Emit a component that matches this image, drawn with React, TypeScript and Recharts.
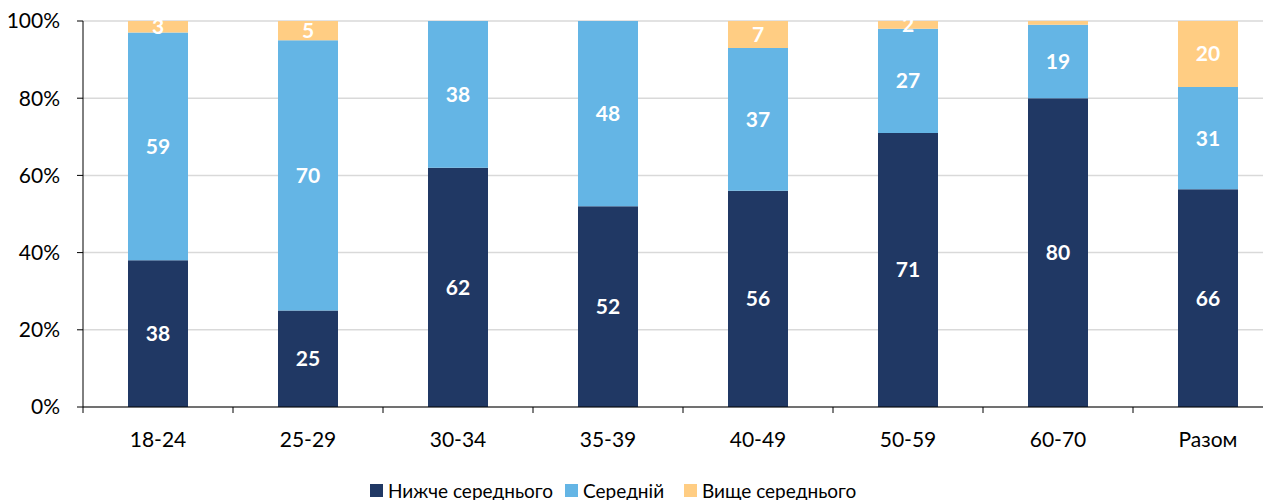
import React from "react";
import {
  BarChart,
  Bar,
  XAxis,
  YAxis,
  CartesianGrid,
  Legend,
  LabelList,
} from "recharts";

const categories = ["18-24", "25-29", "30-34", "35-39", "40-49", "50-59", "60-70", "Разом"];
const below = [38, 25, 62, 52, 56, 71, 80, 66];
const average = [59, 70, 38, 48, 37, 27, 19, 31];
const above = [3, 5, 0, 0, 7, 2, 1, 20];
const yTicks = [0, 0.2, 0.4, 0.6, 0.8, 1];

const seriesNames = ["Нижче середнього", "Середній", "Вище середнього"];
const colors = ["#203864", "#64B5E5", "#FFCD83"];
const legendItemWidths = [195, 119, 200];

const FONT = "Lato, 'Noto Sans', sans-serif";

const chartData = categories.map((c, i) => ({
  name: c,
  below: below[i],
  average: average[i],
  above: above[i],
}));

const CategoryTick = (props: any) => {
  const { x, y, payload } = props;
  const half = payload && payload.offset ? payload.offset : 75;
  return (
    <g>
      <line x1={x - half} x2={x - half} y1={y} y2={y + 6} stroke="#000" />
      <text
        x={x}
        y={y + 31}
        textAnchor="middle"
        dominantBaseline="central"
        fontFamily={FONT}
        fontSize={21}
        fill="#000"
      >
        {payload.value}
      </text>
    </g>
  );
};

const LegendContent = () => (
  <div
    style={{
      display: "flex",
      alignItems: "center",
      fontFamily: FONT,
      fontSize: 19,
      color: "#000",
      whiteSpace: "nowrap",
      lineHeight: "19px",
    }}
  >
    {seriesNames.map((n, i) => (
      <div
        key={n}
        style={{ display: "flex", alignItems: "center", width: legendItemWidths[i] }}
      >
        <span
          style={{
            display: "inline-block",
            width: 13,
            height: 13,
            background: colors[i],
            marginRight: 5,
          }}
        />
        <span>{n}</span>
      </div>
    ))}
  </div>
);

const labelFormatter = (v: any) => (typeof v === "number" && v >= 2 ? v : "");

export default function App() {
  return (
    <div style={{ position: "relative", width: 1263, height: 492, overflow: "hidden" }}>
      <BarChart
        width={1290}
        height={470}
        data={chartData}
        stackOffset="expand"
        margin={{ top: 13, right: 15, left: 0, bottom: 22 }}
        barCategoryGap={0}
      >
        <CartesianGrid vertical={false} stroke="#D9D9D9" strokeWidth={1.5} />
        <XAxis
          dataKey="name"
          axisLine={{ stroke: "#000" }}
          tickLine={false}
          tickSize={0}
          tickMargin={0}
          height={30}
          interval={0}
          tick={<CategoryTick />}
        />
        <YAxis
          width={75}
          domain={[0, 1]}
          ticks={yTicks}
          tickFormatter={(v: number) => `${Math.round(v * 100)}%`}
          axisLine={{ stroke: "#000" }}
          tickLine={{ stroke: "#000" }}
          tickSize={6}
          tickMargin={17}
          tick={{ fill: "#000", fontSize: 21, fontFamily: FONT }}
        />
        <Legend
          verticalAlign="bottom"
          content={<LegendContent />}
          wrapperStyle={{ position: "absolute", top: 473, left: 362, width: "auto" }}
        />
        <Bar dataKey="below" name={seriesNames[0]} stackId="a" fill={colors[0]} barSize={60} isAnimationActive={false}>
          <LabelList dataKey="below" position="center" formatter={labelFormatter} fill="#fff" fontSize={21} fontWeight={700} fontFamily={FONT} />
        </Bar>
        <Bar dataKey="average" name={seriesNames[1]} stackId="a" fill={colors[1]} barSize={60} isAnimationActive={false}>
          <LabelList dataKey="average" position="center" formatter={labelFormatter} fill="#fff" fontSize={21} fontWeight={700} fontFamily={FONT} />
        </Bar>
        <Bar dataKey="above" name={seriesNames[2]} stackId="a" fill={colors[2]} barSize={60} isAnimationActive={false}>
          <LabelList dataKey="above" position="center" formatter={labelFormatter} fill="#fff" fontSize={21} fontWeight={700} fontFamily={FONT} />
        </Bar>
      </BarChart>
    </div>
  );
}
